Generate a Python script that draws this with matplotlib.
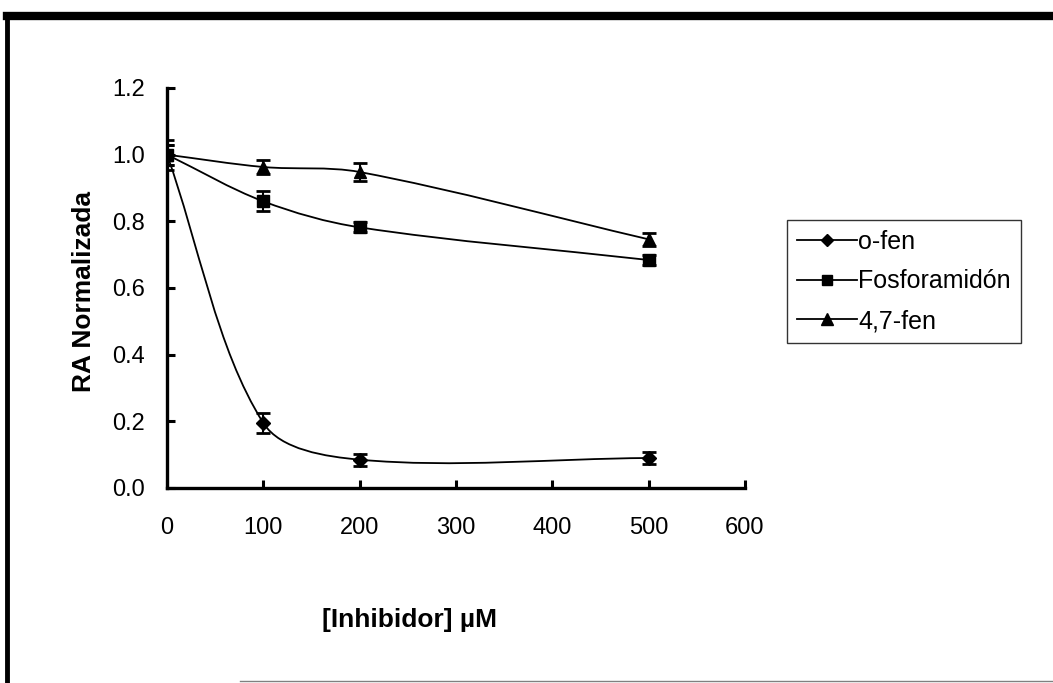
import numpy as np
import matplotlib
matplotlib.use("Agg")
import matplotlib.pyplot as plt
from matplotlib.path import Path
from matplotlib.patches import PathPatch
from matplotlib.lines import Line2D

plt.rcParams['font.family'] = ['Liberation Sans', 'DejaVu Sans']

# ---- data ----
conc = [0, 100, 200, 500]
series_names = ["o-fen", "Fosforamidón", "4,7-fen"]
o_fen = [1.0, 0.195, 0.085, 0.09]
o_fen_err = [0.03, 0.03, 0.018, 0.017]
fosfo = [1.0, 0.86, 0.782, 0.684]
fosfo_err = [0.03, 0.03, 0.015, 0.015]
fen47 = [1.0, 0.963, 0.948, 0.746]
fen47_err = [0.045, 0.02, 0.027, 0.02]
markers = ["D", "s", "^"]
msizes = [7, 8, 9]
xticks = [0, 100, 200, 300, 400, 500, 600]
yticks = [0.0, 0.2, 0.4, 0.6, 0.8, 1.0, 1.2]

W, H = 1053, 683
fig = plt.figure(figsize=(W / 100, H / 100), dpi=100)
ax = fig.add_axes([167 / W, 1 - 488 / H, (745 - 167) / W, (488 - 88) / H])
ax.set_xlim(0, 600)
ax.set_ylim(0, 1.2)


def smooth_path(xs, ys):
    """Smoothed line (chord-scaled Catmull-Rom) drawn as cubic Bezier segments."""
    P = np.column_stack([xs, ys]).astype(float)
    D = ax.transData.transform(P)
    n = len(P)
    d = [np.hypot(*(D[i + 1] - D[i])) for i in range(n - 1)]
    verts = [tuple(P[0])]
    codes = [Path.MOVETO]
    for i in range(n - 1):
        if i > 0:
            c1 = P[i] + (P[i + 1] - P[i - 1]) * d[i] / (d[i - 1] + d[i]) / 3.0
        else:
            c1 = P[i] + (P[i + 1] - P[i]) / 3.0
        if i + 2 < n:
            c2 = P[i + 1] - (P[i + 2] - P[i]) * d[i] / (d[i] + d[i + 1]) / 3.0
        else:
            c2 = P[i + 1] - (P[i + 1] - P[i]) / 3.0
        verts += [tuple(c1), tuple(c2), tuple(P[i + 1])]
        codes += [Path.CURVE4] * 3
    return Path(verts, codes)


data = [(o_fen, o_fen_err), (fosfo, fosfo_err), (fen47, fen47_err)]
for (vals, errs), mk, ms in zip(data, markers, msizes):
    ax.add_patch(PathPatch(smooth_path(conc, vals), fill=False,
                           edgecolor="black", lw=1.3, zorder=2))
    ax.errorbar(conc, vals, yerr=errs, fmt="none", ecolor="black",
                elinewidth=1.5, capsize=5, capthick=2, zorder=3)
    ax.plot(conc, vals, linestyle="none", marker=mk, markersize=ms,
            color="black", zorder=4)

ax.set_xticks(xticks)
ax.set_xticklabels([str(v) for v in xticks])
ax.set_yticks(yticks)
ax.set_yticklabels([f"{v:.1f}" for v in yticks])

for s in ["top", "right"]:
    ax.spines[s].set_visible(False)
for s in ["left", "bottom"]:
    ax.spines[s].set_linewidth(2.4)
ax.tick_params(axis="both", direction="in", length=6, width=2.2,
               labelsize=17, color="black")
ax.tick_params(axis="y", pad=16)
ax.tick_params(axis="x", pad=21)

fig.text(84 / W, 1 - 291 / H, "RA Normalizada", rotation=90, ha="center",
         va="center", fontsize=19, fontweight="bold")
fig.text(410 / W, 1 - 620 / H, "[Inhibidor] µM", ha="center", va="center",
         fontsize=19, fontweight="bold")

handles = [Line2D([], [], color="black", lw=1.3, marker=mk, markersize=ms * 0.9)
           for mk, ms in zip(markers, msizes)]
leg = fig.legend(handles, series_names, loc="upper left",
                 bbox_to_anchor=(787 / W, 1 - 220 / H), fontsize=18,
                 frameon=True, fancybox=False, edgecolor="black",
                 handlelength=2.4, handletextpad=0.05, borderaxespad=0,
                 borderpad=0.4, labelspacing=0.62)
leg.get_frame().set_linewidth(1.0)

# figure border (scanned frame)
fig.add_artist(Line2D([7 / W, 1], [1 - 16 / H, 1 - 16 / H], color="black",
                      lw=6, transform=fig.transFigure))
fig.add_artist(Line2D([7 / W, 7 / W], [1 - 14 / H, 0], color="black",
                      lw=3.5, transform=fig.transFigure))
fig.add_artist(Line2D([240 / W, 1], [1 - 681 / H, 1 - 681 / H], color="gray",
                      lw=1.0, transform=fig.transFigure))

fig.savefig("out.png", dpi=100)
